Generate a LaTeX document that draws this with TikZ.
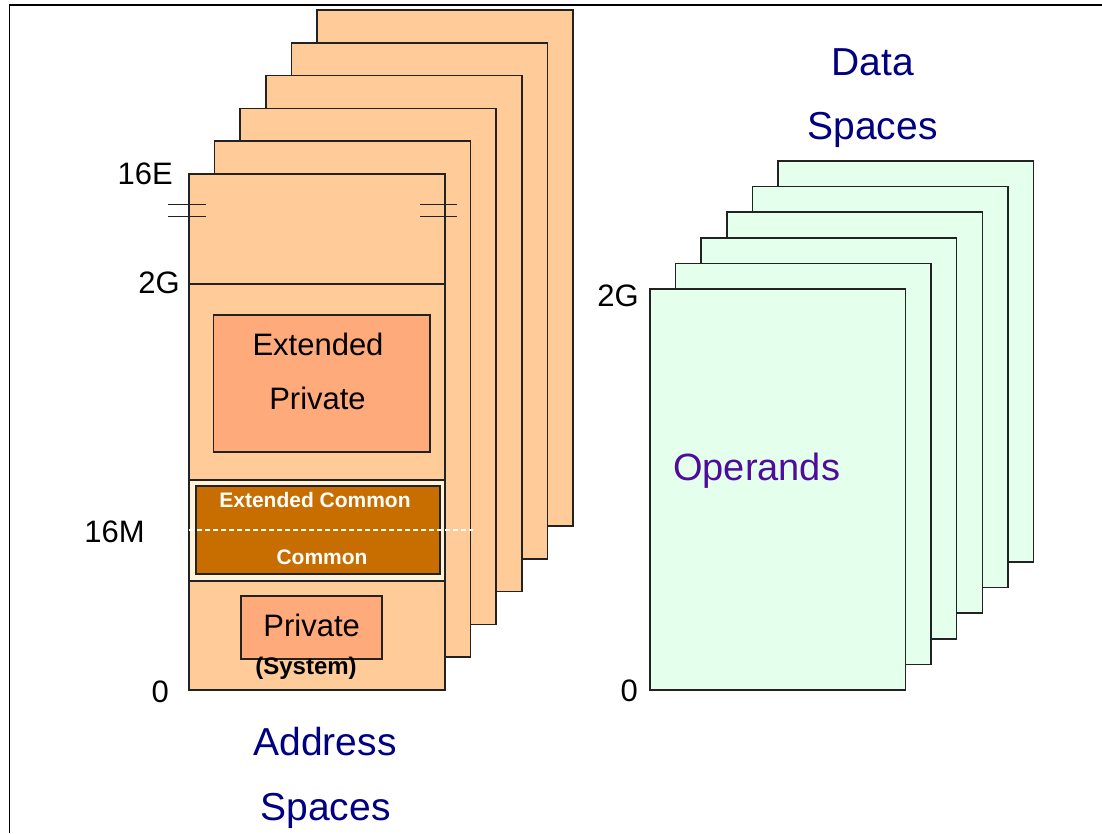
\documentclass[tikz,border=0pt]{standalone}
\usepackage{fontspec}
\setmainfont{Liberation Sans}
\definecolor{peach}{HTML}{FFCC99}
\definecolor{salmon}{HTML}{FFAA7A}
\definecolor{darkorange}{HTML}{C86E00}
\definecolor{cream}{HTML}{FFF2D8}
\definecolor{mint}{HTML}{E5FFED}
\definecolor{navy}{HTML}{000080}
\definecolor{purp}{HTML}{4F0C9C}
\definecolor{edge}{HTML}{222222}
\begin{document}
\begin{tikzpicture}[x=1pt,y=-1pt,
  page/.style={draw=edge,line width=1.5pt,fill=peach},
  dpage/.style={draw=edge,line width=1.5pt,fill=mint},
  inbox/.style={draw=edge,line width=1.5pt},
  thinline/.style={draw=edge,line width=1.5pt},
  lbl/.style={inner sep=0pt,font=\fontsize{31}{31}\selectfont},
  title/.style={inner sep=0pt,text=navy,font=\fontsize{39}{39}\selectfont},
  wlbl/.style={inner sep=0pt,text=white,font=\fontsize{21}{21}\selectfont\bfseries}]
\useasboundingbox (0,0) rectangle (1102,833);
% frame (cropped)
\draw[line width=1.5pt] (9.5,833) -- (9.5,5) -- (1102,5);

% address space stack
\foreach \i in {5,4,3,2,1,0}{
  \draw[page] (189+25.6*\i,174-32.8*\i) rectangle ++(256,516);
}
% 2G line
\coordinate (g2a) at (188,284);
\coordinate (g2b) at (445,284);
\draw[thinline] (g2a) -- (g2b);
% break marks
\foreach \y in {204.5,216.5}{
  \draw[thinline] (168,\y) -- (205.5,\y);
  \draw[thinline] (420,\y) -- (457,\y);
}
% extended private
\draw[inbox,fill=salmon] (213.5,315) rectangle (430,452);
\node[lbl,anchor=base] (ext) at (318,355) {Extended};
\node[lbl,anchor=base] (epriv) at (317.5,409) {Private};
% common area
\draw[inbox,fill=cream] (189,480) rectangle (445,581);
\draw[inbox,fill=darkorange] (196,486) rectangle (440,574);
\draw[white,line width=1.4pt,dash pattern=on 5pt off 3pt] (189,530) -- (473,530);
\node[wlbl,anchor=base] (extc) at (315,507) {Extended Common};
\node[wlbl,anchor=base] (comm) at (322,564) {Common};
% private
\draw[inbox,fill=salmon] (241,596) rectangle (382,659);
\node[lbl,anchor=base] (priv) at (311.7,636) {Private};
\node[inner sep=0pt,anchor=base,font=\fontsize{24}{24}\selectfont\bfseries] (sys) at (306,674) {(System)};

% left labels
\node[lbl,anchor=base east] (l16e) at (173,184.5) {16E};
\node[lbl,anchor=base east] (l2g) at (180,293.5) {2G};
\node[lbl,anchor=base east] (l16m) at (145,542) {16M};
\node[lbl,anchor=base east] (l0) at (169,702) {0};
\node[title,anchor=base] (addr) at (325,755) {Address};
\node[title,anchor=base] (aspc) at (325.5,820) {Spaces};

% data space stack
\foreach \i in {5,4,3,2,1,0}{
  \draw[dpage] (650+25.6*\i,289-25.6*\i) rectangle ++(255.5,401);
}
\node[inner sep=0pt,anchor=base west,text=purp,font=\fontsize{38}{38}\selectfont] (oper) at (673,480) {Operands};
\node[lbl,anchor=base east] (d2g) at (639,306.5) {2G};
\node[lbl,anchor=base east] (d0) at (638,701) {0};
\node[title,anchor=base] (data) at (873,75) {Data};
\node[title,anchor=base] (dspc) at (872.5,139.5) {Spaces};
\end{tikzpicture}
\end{document}
